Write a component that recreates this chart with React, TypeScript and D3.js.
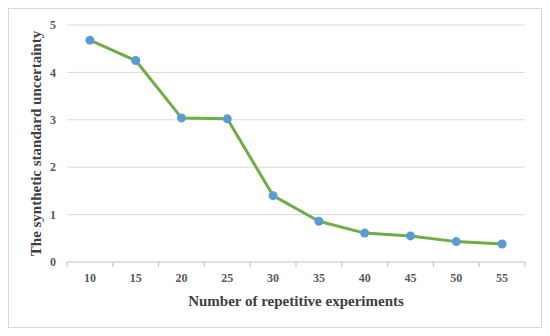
import React from "react";
import { scaleBand, scaleLinear, line } from "d3";

// repetition counts on x axis
const experiments = ["10", "15", "20", "25", "30", "35", "40", "45", "50", "55"];
// synthetic standard uncertainty
const uncertainty = [4.68, 4.25, 3.04, 3.02, 1.4, 0.86, 0.61, 0.55, 0.43, 0.38];
const yTicks = [0, 1, 2, 3, 4, 5];

const width = 550;
const height = 336;
const margin = { left: 67, right: 25, top: 25, bottom: 74 };
const font = "'Liberation Serif', 'Times New Roman', serif";

function App() {
    const x = scaleBand()
        .domain(experiments)
        .range([margin.left, width - margin.right]);
    const y = scaleLinear()
        .domain([0, 5])
        .range([height - margin.bottom, margin.top]);

    const pathGenerator = line<number>()
        .x((d, i) => x(experiments[i])! + x.bandwidth() / 2)
        .y(d => y(d));

    const bottom = y(0);

    return (
        <svg width={width} height={height} style={{ position: "absolute", left: 0, top: 0 }}>
            <rect x={0} y={0} width={width} height={height} fill="#fff" />
            <rect x={8.5} y={8.5} width={533} height={319} fill="#fff" stroke="#d9d9d9" />
            {yTicks.filter(t => t > 0).map(t => (
                <line key={t} x1={margin.left} x2={width - margin.right} y1={y(t)} y2={y(t)}
                    stroke="#d9d9d9" strokeWidth={1} />
            ))}
            <line x1={margin.left} x2={width - margin.right} y1={bottom} y2={bottom} stroke="#bfbfbf" />
            {experiments.map(c => x(c)!).concat([width - margin.right]).map((px, i) => (
                <line key={i} x1={px} x2={px} y1={bottom} y2={bottom + 5} stroke="#bfbfbf" />
            ))}
            {yTicks.map(t => (
                <text key={t} x={56} y={y(t)} dy="0.35em" textAnchor="end" fontFamily={font}
                    fontWeight="bold" fontSize={12} fill="#595959">{t}</text>
            ))}
            {experiments.map(c => (
                <text key={c} x={x(c)! + x.bandwidth() / 2} y={bottom + 20} textAnchor="middle"
                    fontFamily={font} fontWeight="bold" fontSize={12} fill="#595959">{c}</text>
            ))}
            <path d={pathGenerator(uncertainty)!} fill="none" stroke="#70ad47" strokeWidth={3}
                strokeLinejoin="round" />
            {uncertainty.map((v, i) => (
                <circle key={i} cx={x(experiments[i])! + x.bandwidth() / 2} cy={y(v)} r={4.5}
                    fill="#5b9bd5" />
            ))}
            <text x={(margin.left + width - margin.right) / 2} y={306} textAnchor="middle"
                fontFamily={font} fontWeight="bold" fontSize={15} fill="#404040">
                Number of repetitive experiments
            </text>
            <text transform={`translate(41, ${(margin.top + bottom) / 2}) rotate(-90)`} textAnchor="middle"
                fontFamily={font} fontWeight="bold" fontSize={15} fill="#404040">
                The synthetic standard uncertainty
            </text>
        </svg>
    );
}

export default App;
